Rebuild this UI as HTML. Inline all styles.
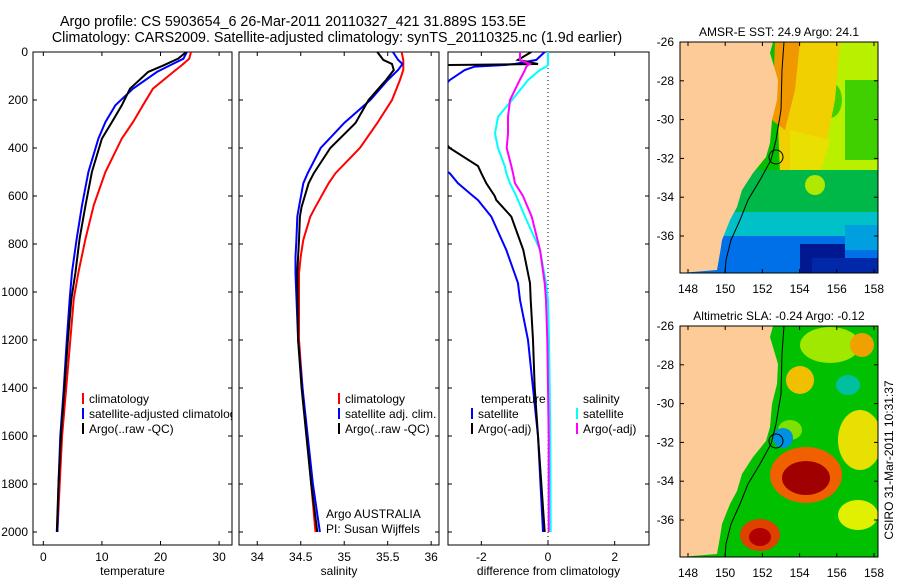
<!DOCTYPE html>
<html><head><meta charset="utf-8"><style>
body{margin:0;background:#fff;}
svg text{font-family:"Liberation Sans",sans-serif;fill:#000;}
</style></head><body>
<svg id="fig" width="900" height="580" viewBox="0 0 900 580" xmlns="http://www.w3.org/2000/svg">
<rect width="900" height="580" fill="#fff"/>
<text x="293" y="26" font-size="14.3" text-anchor="middle">Argo profile: CS 5903654_6 26-Mar-2011 20110327_421 31.889S 153.5E</text>
<text x="337" y="42" font-size="14.3" text-anchor="middle">Climatology: CARS2009. Satellite-adjusted climatology: synTS_20110325.nc (1.9d earlier)</text>
<defs>
<clipPath id="c1"><rect x="33" y="52" width="199" height="493"/></clipPath>
<clipPath id="c2"><rect x="239" y="52" width="200" height="493"/></clipPath>
<clipPath id="c3"><rect x="448" y="52" width="201" height="493"/></clipPath>
<clipPath id="m1"><rect x="680" y="42" width="198" height="231"/></clipPath>
<clipPath id="m2"><rect x="680" y="326" width="198" height="231"/></clipPath>
</defs>
<g id="panels"></g>
<!-- SST map -->
<g clip-path="url(#m1)">
<rect x="680" y="42" width="198" height="231" fill="#00c000"/>
<rect x="780" y="42" width="98" height="130" fill="#b8f000"/>
<rect x="845" y="80" width="33" height="80" fill="#40d000"/>
<ellipse cx="830" cy="100" rx="12" ry="18" fill="#40d000"/>
<polygon points="775,42 840,42 835,100 825,150 815,180 780,175" fill="#f0d000"/>
<polygon points="775,42 800,42 795,90 785,130 772,120" fill="#f09800"/>
<polygon points="790,130 830,140 820,175 790,170" fill="#e8e000"/>
<rect x="680" y="170" width="198" height="50" fill="#00b848"/>
<ellipse cx="815" cy="185" rx="10" ry="10" fill="#b0e800"/>
<rect x="680" y="212" width="198" height="30" fill="#00c0c8"/>
<rect x="680" y="236" width="198" height="37" fill="#0070e8"/>
<rect x="800" y="244" width="45" height="29" fill="#001890"/>
<rect x="812" y="258" width="66" height="15" fill="#0028a8"/>
<rect x="845" y="225" width="33" height="25" fill="#00a0e0"/>
<polygon points="680,42 773,42 770,53 778,80 777,100 772,120 770,143 766,157 753,173 742,190 737,207 730,220 722,240 720,253 717,270 680,273" fill="#fccb98"/>
<polyline points="784,42 782,70 781,110 776,140 771,160 760,180 748,200 740,220 731,240 726,260 725,273" fill="none" stroke="#000" stroke-width="1"/>
<circle cx="776" cy="157" r="7" fill="none" stroke="#000" stroke-width="1"/>
</g>
<rect x="680" y="42" width="198" height="231" fill="none" stroke="#000"/>
<text x="779" y="36" font-size="12" text-anchor="middle">AMSR-E SST: 24.9 Argo: 24.1</text>
<!-- SLA map -->
<g clip-path="url(#m2)">
<rect x="680" y="326" width="198" height="231" fill="#00c000"/>
<ellipse cx="830" cy="345" rx="30" ry="18" fill="#a0e800"/>
<ellipse cx="848" cy="385" rx="12" ry="10" fill="#00c0a0"/>
<ellipse cx="862" cy="345" rx="12" ry="12" fill="#f0a000"/>
<ellipse cx="800" cy="380" rx="14" ry="14" fill="#f0c000"/>
<ellipse cx="806" cy="475" rx="36" ry="28" fill="#f06000"/>
<ellipse cx="806" cy="478" rx="24" ry="17" fill="#a00000"/>
<ellipse cx="860" cy="440" rx="22" ry="30" fill="#e8e000"/>
<ellipse cx="858" cy="515" rx="20" ry="15" fill="#e0f000"/>
<ellipse cx="760" cy="535" rx="20" ry="16" fill="#e04000"/>
<ellipse cx="760" cy="537" rx="11" ry="9" fill="#b00000"/>
<ellipse cx="790" cy="430" rx="12" ry="10" fill="#80e000"/>
<ellipse cx="783" cy="438" rx="10" ry="10" fill="#0090e0"/>
<polygon points="680,326 773,326 770,337 778,364 777,384 772,404 770,427 766,441 753,457 742,474 737,491 730,504 722,524 720,537 717,554 680,557" fill="#fccb98"/>
<polyline points="784,326 782,354 781,394 776,424 771,444 760,464 748,484 740,504 731,524 726,544 725,557" fill="none" stroke="#000" stroke-width="1"/>
<circle cx="776" cy="441" r="7" fill="none" stroke="#000" stroke-width="1"/>
</g>
<rect x="680" y="326" width="198" height="231" fill="none" stroke="#000"/>
<text x="779" y="320" font-size="12" text-anchor="middle">Altimetric SLA: -0.24 Argo: -0.12</text>
<text transform="translate(893,460) rotate(-90)" font-size="12" text-anchor="middle">CSIRO 31-Mar-2011 10:31:37</text>
<g id="maplabels"></g>
</svg>
<script>
const depthT=[0,28,56,83,153,222,292,361,500,639,778,917,1028,1200,1400,1600,1800,2000];
const tClim=[25.2,24.9,23.6,22.2,18.7,17.0,15.3,13.4,10.6,8.6,7.2,6.0,5.2,4.6,3.9,3.2,2.8,2.4];
const tSat=[24.5,23.9,21.6,19.4,15.3,12.3,10.6,9.4,7.7,6.6,5.7,4.9,4.5,4.0,3.5,2.9,2.6,2.4];
const tArgo=[24.4,23.0,20.5,17.9,14.8,13.4,11.7,10.0,8.3,7.2,6.2,5.5,4.8,4.2,3.6,3.0,2.6,2.3];
const depthS=[0,33,50,75,117,200,296,400,505,547,645,686,783,853,922,1200,1400,1800,2000];
const sClim=[35.66,35.68,35.68,35.68,35.64,35.55,35.38,35.18,34.9,34.82,34.67,34.61,34.53,34.5,34.48,34.48,34.52,34.62,34.67];
const sSat=[35.56,35.62,35.67,35.62,35.5,35.3,35.0,34.73,34.58,34.53,34.48,34.46,34.45,34.44,34.44,34.47,34.52,34.64,34.72];
const sArgo=[35.38,35.45,35.55,35.57,35.48,35.28,35.13,34.84,34.65,34.59,34.51,34.49,34.48,34.47,34.46,34.47,34.51,34.62,34.69];
const depthD=[0,33,50,54,61,75,117,200,270,340,400,475,505,547,600,617,686,825,963,1033,1200,1400,1600,2000];
const dSalSat=[0,0,0,0,-0.05,-0.24,-0.6,-1.08,-1.5,-1.59,-1.5,-1.3,-1.25,-1.14,-0.95,-0.9,-0.69,-0.24,-0.06,0,0.03,0.05,0.07,0.08];
const dSalArgo=[-0.84,-0.84,-0.54,-0.6,-0.65,-0.69,-0.85,-1.14,-1.2,-1.2,-1.24,-1.1,-1.05,-0.99,-0.75,-0.7,-0.49,-0.24,-0.1,-0.06,-0.02,0,0.02,0.02];
const dTempArgo=[-0.5,-0.9,-0.3,-2.95,-3.5,-3.5,-3.5,-3.5,-3.5,-3.3,-2.95,-2.1,-2.0,-1.85,-1.6,-1.55,-1.1,-0.74,-0.54,-0.52,-0.45,-0.4,-0.3,-0.1];
const dTempSat=[-0.1,-0.35,-1.0,-1.3,-2.2,-2.5,-2.95,-3.5,-3.5,-3.5,-3.5,-3.3,-2.95,-2.7,-2.25,-2.1,-1.7,-1.25,-0.9,-0.84,-0.6,-0.45,-0.3,-0.15];
const depthTicks=[0,200,400,600,800,1000,1200,1400,1600,1800,2000];
const tTicks=[0,10,20,30];
const sTicks=[34,34.5,35,35.5,36];
const dTicks=[-2,0,2];
const lonTicks=[148,150,152,154,156,158];
const latTicks=[-26,-28,-30,-32,-34,-36];

const NS='http://www.w3.org/2000/svg';
const root=document.getElementById('panels');
function mk(tag,attrs,parent){const e=document.createElementNS(NS,tag);for(const k in attrs)e.setAttribute(k,attrs[k]);(parent||root).appendChild(e);return e;}
const Y=d=>52+d*0.24;
const panels=[
 {x0:33,x1:232,vmin:-1.76,vmax:32.2,ticks:tTicks,label:'temperature',clip:'c1',name:'temperature'},
 {x0:239,x1:439,vmin:33.79,vmax:36.09,ticks:sTicks,label:'salinity',clip:'c2',name:'salinity'},
 {x0:448,x1:649,vmin:-3,vmax:3.03,ticks:dTicks,label:'difference from climatology',clip:'c3',name:'difference'}
];
panels.forEach((p,i)=>{
 p.X=v=>p.x0+(v-p.vmin)/(p.vmax-p.vmin)*(p.x1-p.x0);
 const g=mk('g',{});
 
 
 const fr=mk('rect',{x:p.x0,y:52,width:p.x1-p.x0,height:493,fill:'none',stroke:'#000'},g);
 
 
 p.ticks.forEach(t=>{const x=p.X(t);
  mk('line',{x1:x,x2:x,y1:545,y2:541,stroke:'#000'},g);
  mk('line',{x1:x,x2:x,y1:52,y2:56,stroke:'#000'},g);
  const tx=mk('text',{x:x,y:561,'font-size':12,'text-anchor':'middle'},g);tx.textContent=t;
  
  
 });
 depthTicks.forEach(d=>{const y=Y(d);
  mk('line',{x1:p.x0,x2:p.x0+4,y1:y,y2:y,stroke:'#000'},g);
  mk('line',{x1:p.x1,x2:p.x1-4,y1:y,y2:y,stroke:'#000'},g);
  if(i===0){const tx=mk('text',{x:28,y:y+4,'font-size':12,'text-anchor':'end'},g);tx.textContent=d;
   
   }
 });
 const xl=mk('text',{x:(p.x0+p.x1)/2,y:575,'font-size':12,'text-anchor':'middle'},g);xl.textContent=p.label;
 
 
});
function line(p,depths,vals,color,name){
 const pts=depths.map((d,k)=>p.X(vals[k]).toFixed(1)+','+Y(d).toFixed(1)).join(' ');
 const e=mk('polyline',{points:pts,fill:'none',stroke:color,'stroke-width':2,'clip-path':'url(#'+p.clip+')'});
 
 
}
const P=panels;
const z=mk('line',{x1:P[2].X(0),x2:P[2].X(0),y1:52,y2:545,stroke:'#000','stroke-dasharray':'1,3'});


line(P[0],depthT,tClim,'#ff0000','temperature-climatology-line');
line(P[0],depthT,tSat,'#0000ff','temperature-satellite-line');
line(P[0],depthT,tArgo,'#000000','temperature-argo-line');
line(P[1],depthS,sClim,'#ff0000','salinity-climatology-line');
line(P[1],depthS,sSat,'#0000ff','salinity-satellite-line');
line(P[1],depthS,sArgo,'#000000','salinity-argo-line');
line(P[2],depthD,dTempSat,'#0000ff','temperature-satellite-diff-line');
line(P[2],depthD,dTempArgo,'#000000','temperature-argo-diff-line');
line(P[2],depthD,dSalSat,'#00ffff','salinity-satellite-diff-line');
line(P[2],depthD,dSalArgo,'#ff00ff','salinity-argo-diff-line');
function legend(x,y,color,text,clip){
 const g=mk('g',clip?{'clip-path':'url(#'+clip+')'}:{});
 
 
 mk('line',{x1:x,x2:x,y1:y-10,y2:y+1,stroke:color,'stroke-width':2},g);
 const t=mk('text',{x:x+6,y:y,'font-size':12},g);t.textContent=text;
}
legend(83,403,'#ff0000','climatology','c1');
legend(83,418,'#0000ff','satellite-adjusted climatology','c1');
legend(83,433,'#000000','Argo(..raw -QC)','c1');
legend(339,403,'#ff0000','climatology');
legend(339,418,'#0000ff','satellite adj. clim.');
legend(339,433,'#000000','Argo(..raw -QC)');
legend(472,418,'#0000ff','satellite');
legend(472,433,'#000000','Argo(-adj)');
legend(577,418,'#00ffff','satellite');
legend(577,433,'#ff00ff','Argo(-adj)');
[['temperature',481],['salinity',583]].forEach(([s,x])=>{const t=mk('text',{x:x,y:403,'font-size':12});t.textContent=s;
 
 });
[['Argo AUSTRALIA',518],['PI: Susan Wijffels',533]].forEach(([s,y])=>{const t=mk('text',{x:326,y:y,'font-size':12});t.textContent=s;
 
 });
const ml=document.getElementById('maplabels');
[[42,273],[326,557]].forEach(([top,bot])=>{
 const lonX=l=>688+(l-148)*18.6;
 const latY=l=>top+(-26-l)*19.4;
 lonTicks.forEach(l=>{const x=lonX(l);
  mk('line',{x1:x,x2:x,y1:bot,y2:bot-4,stroke:'#000'},ml);
  mk('line',{x1:x,x2:x,y1:top,y2:top+4,stroke:'#000'},ml);
  const t=mk('text',{x:x,y:bot+20,'font-size':12,'text-anchor':'middle'},ml);t.textContent=l;
  
  });
 latTicks.forEach(l=>{const y=latY(l);
  mk('line',{x1:680,x2:684,y1:y,y2:y,stroke:'#000'},ml);
  mk('line',{x1:878,x2:874,y1:y,y2:y,stroke:'#000'},ml);
  const t=mk('text',{x:674,y:y+4,'font-size':12,'text-anchor':'end'},ml);t.textContent=l;
  
  });
});
</script>
</body></html>
